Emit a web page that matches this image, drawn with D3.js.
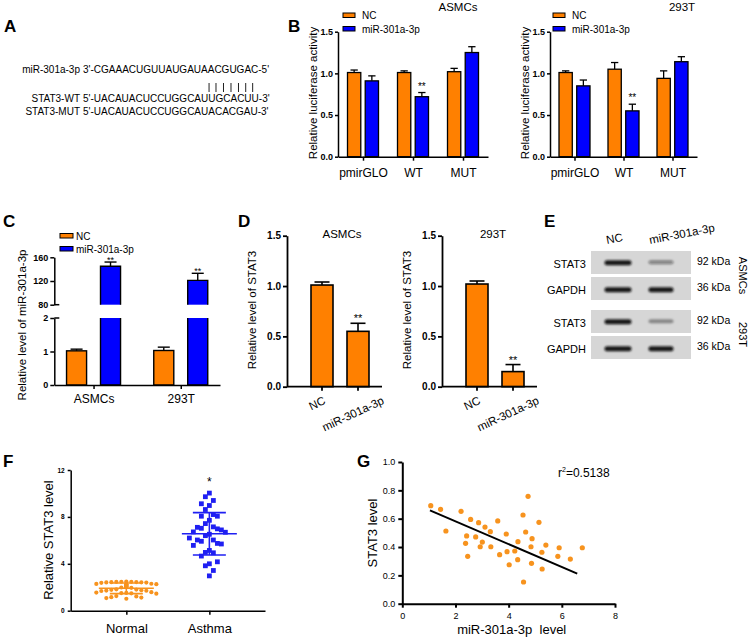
<!DOCTYPE html>
<html><head><meta charset="utf-8">
<script src="https://cdn.jsdelivr.net/npm/d3@7"></script>
<style>
body{margin:0;background:#fff}
svg{display:block}
text{font-family:Arial,"Liberation Sans",Helvetica,sans-serif}
</style>
</head><body>
<svg id="c" width="753" height="640"></svg>
<script>
// ---------------- DATA ----------------
// Panel A
const seqLabels = ["miR-301a-3p", "STAT3-WT", "STAT3-MUT"];
const seqs = ["3'-CGAAACUGUUAUGAUAACGUGAC-5'", "5'-UACAUACUCCUGGCAUUGCACUU-3'", "5'-UACAUACUCCUGGCAUACACGAU-3'"];
const pairedChars = [19, 20, 21, 22, 23, 24, 25];

// Panel B
const bCats = ["pmirGLO", "WT", "MUT"];
const bSeries = ["NC", "miR-301a-3p"];
const bTicks = [0, 0.5, 1.0, 1.5];
const bAsmcsNC = [1.01, 1.01, 1.02], bAsmcsNCerr = [0.03, 0.02, 0.04];
const bAsmcsMiR = [0.91, 0.72, 1.25], bAsmcsMiRerr = [0.06, 0.05, 0.07];
const b293NC = [1.01, 1.05, 0.94], b293NCerr = [0.02, 0.08, 0.09];
const b293MiR = [0.85, 0.55, 1.14], b293MiRerr = [0.07, 0.08, 0.06];
const bStars = ["", "**", ""];

// Panel C
const cCats = ["ASMCs", "293T"];
const cNC = [1.02, 1.03], cNCerr = [0.05, 0.10];
const cMiR = [145, 121], cMiRerr = [7, 12];
const cTicksLow = [0, 1, 2], cTicksHigh = [80, 120, 160];

// Panel D
const dCats = ["NC", "miR-301a-3p"];
const dTicks = [0, 0.5, 1.0, 1.5];
const dAsmcs = [1.01, 0.55], dAsmcsErr = [0.03, 0.08];
const d293 = [1.02, 0.15], d293Err = [0.03, 0.07];

// Panel E
const eLanes = ["NC", "miR-301a-3p"];
const eProteins = ["STAT3", "GAPDH", "STAT3", "GAPDH"];
const eKda = ["92 kDa", "36 kDa", "92 kDa", "36 kDa"];
const eCells = ["ASMCs", "293T"];
const eIntensity = [[1, 0.35], [1, 1], [1, 0.28], [1, 1]];

// Panel F
const fCats = ["Normal", "Asthma"];
const fTicks = [0, 4, 8, 12];
const normalVals = [2.45, 2.42, 2.48, 2.40, 2.44, 2.46, 2.38, 2.43, 2.41, 2.47,
  2.25, 2.22, 2.28, 2.20, 2.30, 2.18, 2.26,
  2.05, 1.98, 2.02, 2.08, 1.95, 2.00,
  1.78, 1.72, 1.80, 1.70, 1.75, 1.68, 1.82,
  1.55, 1.48, 1.52, 1.45, 1.58, 1.50,
  1.25, 1.15, 1.08, 1.22, 1.02, 1.12];
const asthmaVals = [10.03, 9.72, 8.97, 9.12, 9.40, 8.63, 8.06, 8.06, 8.20, 7.71,
  7.43, 7.11, 7.03, 7.15, 6.98, 6.89, 6.72, 6.69, 6.52, 6.40,
  6.20, 6.03, 6.03, 5.92, 5.74, 5.69, 5.57, 5.14, 4.94, 4.97,
  4.66, 4.17, 4.00, 3.83, 3.43, 2.97];

// Panel G
const gX = [1.07, 1.44, 1.64, 2.21, 2.42, 2.38, 2.46, 2.57, 2.76, 2.87, 2.93, 3.01, 3.11, 3.31, 3.33, 3.59, 3.66, 3.91, 3.94,
  4.02, 4.23, 4.35, 4.34, 4.54, 4.56, 4.64, 4.73, 4.84, 4.88, 4.86, 5.14, 5.25, 5.26, 5.40, 5.85, 5.90, 6.32, 6.77];
const gY = [0.692, 0.666, 0.513, 0.652, 0.478, 0.426, 0.334, 0.595, 0.471, 0.572, 0.402, 0.435, 0.541, 0.508, 0.402, 0.584, 0.346, 0.492, 0.367,
  0.275, 0.372, 0.438, 0.311, 0.626, 0.153, 0.506, 0.758, 0.402, 0.459, 0.285, 0.574, 0.363, 0.245, 0.414, 0.334, 0.395, 0.315, 0.395];
const gFitX = [1.04, 6.58], gFitY = [0.659, 0.212];
const gXTicks = [0, 2, 4, 6, 8];
const gYTicks = [0, 0.2, 0.4, 0.6, 0.8, 1.0];
const gR2 = "0.5138";

// ---------------- DRAWING ----------------
const ORANGE = "#FF8000", BLUE = "#0000FF", PT_OR = "#F7931E", PT_BL = "#1F1FF2";
const svg = d3.select("#c");

function label(g, x, y, s, fs, opts = {}) {
  const t = g.append("text").attr("x", x).attr("y", y).attr("font-size", fs)
    .attr("fill", opts.fill || "#000").attr("text-anchor", opts.anchor || "start")
    .attr("font-weight", opts.bold ? "bold" : "normal").text(s);
  if (opts.rotate) t.attr("transform", `rotate(${opts.rotate},${x},${y})`);
  if (opts.dy) t.attr("dy", opts.dy);
  return t;
}
function styleAxis(sel, fs, bold, sw) {
  sel.select(".domain").attr("stroke", "#000").attr("stroke-width", sw);
  sel.selectAll(".tick line").attr("stroke", "#000").attr("stroke-width", sw);
  sel.selectAll(".tick text").attr("font-size", fs).attr("font-weight", bold ? "bold" : "normal").attr("fill", "#000")
    .attr("font-family", 'Arial,"Liberation Sans",sans-serif');
}
function errBar(g, cx, yTop, yErr, cap, sw) {
  g.append("line").attr("x1", cx).attr("x2", cx).attr("y1", yTop).attr("y2", yErr).attr("stroke", "#000").attr("stroke-width", sw);
  g.append("line").attr("x1", cx - cap / 2).attr("x2", cx + cap / 2).attr("y1", yErr).attr("y2", yErr).attr("stroke", "#000").attr("stroke-width", sw);
}

// Panel letters
[["A", 4, 31.7], ["B", 288, 31.7], ["C", 3, 226.7], ["D", 238, 226.7], ["E", 544, 226.7], ["F", 3, 466.7], ["G", 357, 466.7]]
  .forEach(([s, x, y]) => label(svg, x, y, s, 17, { bold: true }));

// ---- Panel A
(function () {
  const g = svg.append("g");
  const rowY = i => i === 0 ? 73 : 102 + (i - 1) * 13;
  let seqNode = null;
  seqs.forEach((s, i) => {
    label(g, 80, rowY(i), seqLabels[i], 10, { anchor: "end" });
    const t = label(g, 83, rowY(i), s, 10);
    if (i === 0) seqNode = t.node();
  });
  pairedChars.forEach(ci => {
    const e = seqNode.getExtentOfChar(ci);
    const bx = e.x + e.width / 2 - 2;
    g.append("line").attr("x1", bx).attr("x2", bx).attr("y1", 83).attr("y2", 92).attr("stroke", "#222").attr("stroke-width", 1);
  });
})();

// ---- Panel B
function panelB(opt) {
  const g = svg.append("g");
  const y = d3.scaleLinear().domain([0, 1.5]).range([156.7, 31.7]);
  const x = d3.scalePoint().domain(bCats).range([opt.x0, opt.x1]).padding(0.5);
  const sub = d3.scaleBand().domain(bSeries).range([-15.5, 15.5]).paddingInner(0.25);
  const series = [
    { name: bSeries[0], vals: opt.nc, err: opt.ncErr, color: ORANGE },
    { name: bSeries[1], vals: opt.mir, err: opt.mirErr, color: BLUE }];
  series.forEach((s, si) => {
    bCats.forEach((c, i) => {
      const bx = x(c) + sub(s.name), bw = sub.bandwidth();
      errBar(g, bx + bw / 2, y(s.vals[i]), y(s.vals[i] + s.err[i]), bw * 0.55, 1.3);
      g.append("rect").attr("x", bx).attr("y", y(s.vals[i])).attr("width", bw).attr("height", y(0) - y(s.vals[i]))
        .attr("fill", s.color).attr("stroke", "#000").attr("stroke-width", 1.3);
      if (si === 1 && bStars[i]) label(g, bx + bw / 2, y(s.vals[i] + s.err[i]) - 3, bStars[i], 10, { anchor: "middle" });
    });
  });
  const ya = g.append("g").attr("transform", `translate(${opt.x0},0)`)
    .call(d3.axisLeft(y).tickValues(bTicks).tickFormat(d3.format(".1f")).tickSize(3).tickSizeOuter(0).tickPadding(2));
  styleAxis(ya, 9, true, 1.5);
  const xa = g.append("g").attr("transform", `translate(0,${y(0)})`)
    .call(d3.axisBottom(x).tickSize(4).tickSizeOuter(0).tickPadding(8));
  styleAxis(xa, 12, false, 1.5);
  label(g, opt.titleX, 11, opt.title, 11.5, { anchor: "middle" });
  label(g, opt.x0 - 25, 93, "Relative luciferase activity", 11.5, { anchor: "middle", rotate: -90, dy: "0.35em" });
  // legend
  series.forEach((s, i) => {
    g.append("rect").attr("x", opt.legX).attr("y", 13 + i * 13.5).attr("width", 12).attr("height", 4.5)
      .attr("fill", s.color).attr("stroke", "#000").attr("stroke-width", 1);
    label(g, opt.legX + 19, 19 + i * 13.5, s.name, 10);
  });
}
panelB({ x0: 338, x1: 488, nc: bAsmcsNC, ncErr: bAsmcsNCerr, mir: bAsmcsMiR, mirErr: bAsmcsMiRerr, title: "ASMCs", titleX: 458, legX: 343 });
panelB({ x0: 550, x1: 697, nc: b293NC, ncErr: b293NCerr, mir: b293MiR, mirErr: b293MiRerr, title: "293T", titleX: 682, legX: 553 });

// ---- Panel C
(function () {
  const g = svg.append("g");
  const ax = 54.3;
  const yLow = d3.scaleLinear().domain([0, 2]).range([385, 318]);
  const yHigh = d3.scaleLinear().domain([80, 160]).range([304.7, 257.3]);
  const x = d3.scalePoint().domain(cCats).range([ax, 220]).padding(0.45);
  const sub = d3.scaleBand().domain(bSeries).range([-27, 27]).paddingInner(0.41);
  const bw = sub.bandwidth();
  const series = [
    { name: bSeries[0], vals: cNC, err: cNCerr, color: ORANGE },
    { name: bSeries[1], vals: cMiR, err: cMiRerr, color: BLUE }];
  series.forEach(s => {
    cCats.forEach((c, i) => {
      const bx = x(c) + sub(s.name), v = s.vals[i];
      if (v <= 2) {
        errBar(g, bx + bw / 2, yLow(v), yLow(v + s.err[i]), bw * 0.6, 1.4);
        g.append("rect").attr("x", bx).attr("y", yLow(v)).attr("width", bw).attr("height", yLow(0) - yLow(v))
          .attr("fill", s.color).attr("stroke", "#000").attr("stroke-width", 1.4);
      } else {
        errBar(g, bx + bw / 2, yHigh(v), yHigh(v + s.err[i]), bw * 0.6, 1.4);
        g.append("rect").attr("x", bx).attr("y", yHigh(v)).attr("width", bw).attr("height", yHigh(80) - yHigh(v)).attr("fill", s.color);
        g.append("path").attr("d", `M${bx},${yHigh(80)}V${yHigh(v)}H${bx + bw}V${yHigh(80)}`).attr("fill", "none").attr("stroke", "#000").attr("stroke-width", 1.4);
        g.append("rect").attr("x", bx).attr("y", yLow(2)).attr("width", bw).attr("height", yLow(0) - yLow(2)).attr("fill", s.color);
        g.append("path").attr("d", `M${bx},${yLow(2)}V${yLow(0)}H${bx + bw}V${yLow(2)}`).attr("fill", "none").attr("stroke", "#000").attr("stroke-width", 1.4);
        label(g, bx + bw / 2, yHigh(v + s.err[i]) + 0.5, "**", 9, { anchor: "middle" });
      }
    });
  });
  const ya1 = g.append("g").attr("transform", `translate(${ax},0)`)
    .call(d3.axisLeft(yLow).tickValues(cTicksLow).tickFormat(d3.format("d")).tickSize(4).tickSizeOuter(0).tickPadding(2));
  styleAxis(ya1, 9, true, 1.5);
  const ya2 = g.append("g").attr("transform", `translate(${ax},0)`)
    .call(d3.axisLeft(yHigh).tickValues(cTicksHigh).tickFormat(d3.format("d")).tickSize(4).tickSizeOuter(0).tickPadding(2));
  styleAxis(ya2, 9, true, 1.5);
  [yHigh(80), yLow(2)].forEach(yy => g.append("line").attr("x1", ax).attr("x2", ax + 5).attr("y1", yy).attr("y2", yy).attr("stroke", "#000").attr("stroke-width", 1.5));
  const xa = g.append("g").attr("transform", `translate(0,${yLow(0)})`)
    .call(d3.axisBottom(x).tickSize(4).tickSizeOuter(0).tickPadding(5));
  styleAxis(xa, 12, false, 1.5);
  label(g, 22, 325, "Relative level of miR-301a-3p", 11.5, { anchor: "middle", rotate: -90, dy: "0.35em" });
  series.forEach((s, i) => {
    g.append("rect").attr("x", 60).attr("y", 233.5 + i * 13).attr("width", 13).attr("height", 4.5)
      .attr("fill", s.color).attr("stroke", "#000").attr("stroke-width", 1);
    label(g, 76, 239.5 + i * 13, s.name, 10);
  });
})();

// ---- Panel D
function panelD(opt) {
  const g = svg.append("g");
  const y = d3.scaleLinear().domain([0, 1.5]).range([386.7, 235.7]);
  const x = d3.scaleBand().domain(dCats).range([opt.b0, opt.b1]);
  const bw = 22;
  dCats.forEach((c, i) => {
    const cx = x(c) + x.bandwidth() / 2, v = opt.vals[i];
    errBar(g, cx, y(v), y(v + opt.err[i]), 15, 1.6);
    g.append("rect").attr("x", cx - bw / 2).attr("y", y(v)).attr("width", bw).attr("height", y(0) - y(v))
      .attr("fill", ORANGE).attr("stroke", "#000").attr("stroke-width", 1.6);
    if (i === 1) label(g, cx, y(v + opt.err[i]) - 1, "**", 11, { anchor: "middle" });
  });
  const ya = g.append("g").attr("transform", `translate(${opt.ax},0)`)
    .call(d3.axisLeft(y).tickValues(dTicks).tickFormat(d3.format(".1f")).tickSize(4).tickSizeOuter(0).tickPadding(2));
  styleAxis(ya, 10, true, 1.8);
  g.append("line").attr("x1", opt.ax).attr("x2", opt.axEnd).attr("y1", y(0)).attr("y2", y(0)).attr("stroke", "#000").attr("stroke-width", 1.8);
  const ang = 25;
  dCats.forEach(c => {
    const cx = x(c) + x.bandwidth() / 2;
    g.append("line").attr("x1", cx).attr("x2", cx).attr("y1", y(0)).attr("y2", y(0) + 4).attr("stroke", "#000").attr("stroke-width", 1.8);
    const t = g.append("text").attr("font-size", 11.5).attr("text-anchor", "middle").attr("dy", "0.35em").text(c);
    const L = t.node().getComputedTextLength();
    const lx = cx - 5, ly = y(0) + 13 + L / 2 * Math.sin(ang * Math.PI / 180);
    t.attr("transform", `translate(${lx},${ly}) rotate(${-ang})`);
  });
  label(g, opt.titleX, 238, opt.title, 11.5, { anchor: "middle" });
  label(g, opt.ax - 35, 310, "Relative level of STAT3", 11.5, { anchor: "middle", rotate: -90, dy: "0.35em" });
}
panelD({ ax: 287, axEnd: 382, b0: 304, b1: 376, vals: dAsmcs, err: dAsmcsErr, title: "ASMCs", titleX: 342 });
panelD({ ax: 442, axEnd: 537, b0: 459, b1: 531, vals: d293, err: d293Err, title: "293T", titleX: 493 });

// ---- Panel E
(function () {
  const g = svg.append("g");
  const defs = svg.append("defs");
  defs.append("filter").attr("id", "blur").attr("x", "-30%").attr("y", "-100%").attr("width", "160%").attr("height", "300%")
    .append("feGaussianBlur").attr("stdDeviation", 0.9);
  const lane = d3.scalePoint().domain(eLanes).range([618, 661]);
  const rowY = i => 251 + Math.floor(i / 2) * 59 + (i % 2) * 26;
  const bh = 23;
  eProteins.forEach((p, i) => {
    const y0 = rowY(i);
    g.append("rect").attr("x", 591).attr("y", y0).attr("width", 100).attr("height", bh).attr("fill", "#d6d6d6");
    eLanes.forEach((ln, j) => {
      const inten = eIntensity[i][j];
      const w = j === 0 ? 27 : 25;
      g.append("rect").attr("x", lane(ln) - w / 2).attr("y", y0 + bh / 2 - 2.3 + (i % 2))
        .attr("width", w).attr("height", inten < 0.6 ? 4 : 5).attr("rx", 2.5)
        .attr("fill", "#111").attr("fill-opacity", inten < 0.6 ? 0.12 + 0.9 * inten : 0.95).attr("filter", "url(#blur)");
    });
    label(g, 586, y0 + bh / 2 + 2, p, 11, { anchor: "end", dy: "0.35em" });
    label(g, 697, y0 + bh / 2 - 1.5, eKda[i], 10.5, { dy: "0.35em" });
  });
  eLanes.forEach(ln => {
    const lx = lane(ln) - 11, ly = 244;
    g.append("text").attr("font-size", 11.5).attr("transform", `translate(${lx},${ly}) rotate(-11)`).text(ln);
  });
  eCells.forEach((c, k) => {
    const cy = (rowY(2 * k) + rowY(2 * k + 1) + bh) / 2;
    label(g, 743, cy, c, 11, { anchor: "middle", rotate: 90, dy: "0.35em" });
  });
})();

// ---- Panel F
function swarm(vals, y, slotW, minDy, maxSlots) {
  const order = d3.range(vals.length).sort((a, b) => vals[b] - vals[a]);
  const slots = new Map(); const off = new Array(vals.length).fill(0);
  for (const i of order) {
    const py = y(vals[i]);
    for (let k = 0; k <= 2 * maxSlots; k++) {
      const s = k === 0 ? 0 : (k % 2 ? -Math.ceil(k / 2) : Math.ceil(k / 2));
      const arr = slots.get(s) || [];
      if (arr.every(q => Math.abs(q - py) >= minDy)) { arr.push(py); slots.set(s, arr); off[i] = s * slotW; break; }
    }
  }
  return off;
}
(function () {
  const g = svg.append("g");
  const ax = 70.7;
  const y = d3.scaleLinear().domain([0, 12]).range([610.7, 470]);
  const x = d3.scalePoint().domain(fCats).range([ax, 265]).padding(0.67);
  const groups = [
    { cat: fCats[0], vals: normalVals, color: PT_OR, shape: "circle", off: swarm(normalVals, y, 5, 5.5, 6) },
    { cat: fCats[1], vals: asthmaVals, color: PT_BL, shape: "square", off: swarm(asthmaVals, y, 4, 12, 6) }];
  groups.forEach(gr => {
    const cx = x(gr.cat);
    gr.vals.forEach((v, i) => {
      if (gr.shape === "circle") g.append("circle").attr("cx", cx + gr.off[i]).attr("cy", y(v)).attr("r", 2.1).attr("fill", gr.color);
      else g.append("rect").attr("x", cx + gr.off[i] - 2.4).attr("y", y(v) - 2.4).attr("width", 4.8).attr("height", 4.8).attr("fill", gr.color);
    });
    const m = d3.mean(gr.vals), sd = d3.deviation(gr.vals);
    const ln = (x1, x2, y1, y2) => g.append("line").attr("x1", x1).attr("x2", x2).attr("y1", y1).attr("y2", y2).attr("stroke", gr.color).attr("stroke-width", 1.6);
    ln(cx - 27.5, cx + 27.5, y(m), y(m));
    ln(cx - 16.5, cx + 16.5, y(m + sd), y(m + sd));
    ln(cx - 16.5, cx + 16.5, y(m - sd), y(m - sd));
    ln(cx, cx, y(m + sd), y(m - sd));
  });
  label(g, x(fCats[1]), 486, "*", 12, { anchor: "middle" });
  const ya = g.append("g").attr("transform", `translate(${ax},0)`)
    .call(d3.axisLeft(y).tickValues(fTicks).tickSize(3).tickSizeOuter(0).tickPadding(3));
  styleAxis(ya, 6.5, true, 1.5);
  const xa = g.append("g").attr("transform", `translate(0,${y(0)})`)
    .call(d3.axisBottom(x).tickSize(4).tickSizeOuter(0).tickPadding(9.5));
  styleAxis(xa, 13, false, 1.5);
  label(g, 48, 540, "Relative STAT3 level", 13, { anchor: "middle", rotate: -90, dy: "0.35em" });
})();

// ---- Panel G
(function () {
  const g = svg.append("g");
  const x = d3.scaleLinear().domain([0, 8]).range([402.3, 615]);
  const y = d3.scaleLinear().domain([0, 1]).range([603.7, 462]);
  gX.forEach((v, i) => g.append("circle").attr("cx", x(v)).attr("cy", y(gY[i])).attr("r", 2.6).attr("fill", PT_OR));
  g.append("line").attr("x1", x(gFitX[0])).attr("x2", x(gFitX[1])).attr("y1", y(gFitY[0])).attr("y2", y(gFitY[1]))
    .attr("stroke", "#000").attr("stroke-width", 2);
  const ya = g.append("g").attr("transform", `translate(${x(0)},0)`)
    .call(d3.axisLeft(y).tickValues(gYTicks).tickFormat(d3.format(".1f")).tickSize(4).tickSizeOuter(0).tickPadding(3));
  styleAxis(ya, 9, false, 2);
  const xa = g.append("g").attr("transform", `translate(0,${y(0)})`)
    .call(d3.axisBottom(x).tickValues(gXTicks).tickSize(4).tickSizeOuter(0).tickPadding(5));
  styleAxis(xa, 9, false, 2);
  label(g, 372, 533, "STAT3 level", 13, { anchor: "middle", rotate: -90, dy: "0.35em" });
  label(g, 511.7, 634, "miR-301a-3p  level", 13, { anchor: "middle" }).style("white-space", "pre");
  const r = g.append("text").attr("x", 558).attr("y", 477).attr("font-size", 12);
  r.append("tspan").text("r");
  r.append("tspan").attr("font-size", 7).attr("dy", -5).text("2");
  r.append("tspan").attr("dy", 5).text("=" + gR2);
})();
</script>
</body></html>
